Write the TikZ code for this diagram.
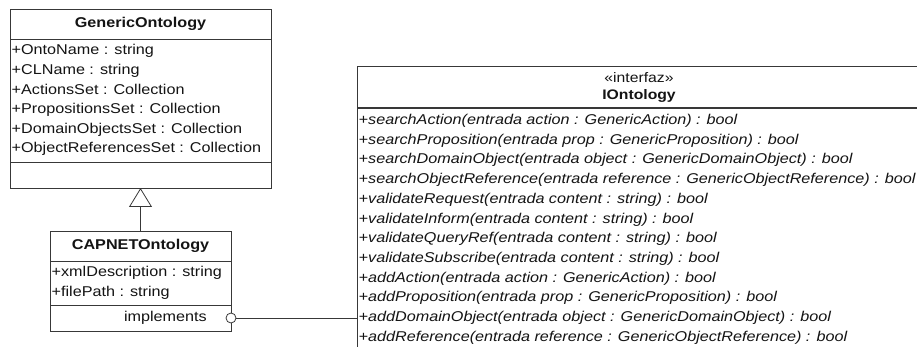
\documentclass[tikz,border=0pt]{standalone}
\usepackage{fontspec}
\setmainfont{Liberation Sans}
\newfontfamily\umlfont[FakeStretch=1.14]{Liberation Sans}
\usetikzlibrary{arrows.meta,positioning}

\tikzset{
  compart/.style={draw=cline,line width=0.8pt,fill=white,inner sep=0pt,outer sep=0pt,anchor=north west},
  ctitle/.style={inner sep=0pt,text=ctext,font=\umlfont\bfseries\fontsize{14.2}{17}\selectfont},
  attr/.style={anchor=base west,inner sep=0pt,text=ctext,font=\umlfont\fontsize{14.2}{17}\selectfont},
  meth/.style={anchor=base west,inner sep=0pt,text=ctext,font=\umlfont\itshape\fontsize{14.2}{16}\selectfont},
  ihead/.style={inner sep=0pt,text=ctext,font=\umlfont\fontsize{13.8}{16}\selectfont},
}

\begin{document}
\begin{tikzpicture}[x=1pt,y=-1pt]
%
\useasboundingbox (0,0) rectangle (917,347);
\clip (0,0) rectangle (917,347);
%
\definecolor{cline}{rgb}{0.22,0.22,0.22}
\definecolor{ctext}{rgb}{0.08,0.08,0.08}
%
% GenericOntology
\node[compart,minimum width=261pt,minimum height=30pt] (go-title) at (10,9) {};
\node[compart,minimum width=261pt,minimum height=123pt,below=0pt of go-title] (go-attr) {};
\node[compart,minimum width=261pt,minimum height=26pt,below=0pt of go-attr] (go-ops) {};
\node[ctitle] (go-name) at (go-title.center) {GenericOntology};
\foreach \a [count=\i] in {{+OntoName : string},{+CLName : string},{+ActionsSet : Collection},{+PropositionsSet : Collection},{+DomainObjectsSet : Collection},{+ObjectReferencesSet : Collection}}
  \node[attr] (go-a\i) at (11.5,35.4+19.6*\i) {\a};
%
% CAPNETOntology
\node[compart,minimum width=181pt,minimum height=30pt] (cap-title) at (50,231) {};
\node[compart,minimum width=181pt,minimum height=44pt,below=0pt of cap-title] (cap-attr) {};
\node[compart,minimum width=181pt,minimum height=26pt,below=0pt of cap-attr] (cap-ops) {};
\node[ctitle] (cap-name) at (cap-title.center) {CAPNETOntology};
\node[attr] (cap-a1) at (51.5,276) {+xmlDescription : string};
\node[attr] (cap-a2) at (51.5,296) {+filePath : string};
\node[attr,anchor=east,xshift=-24pt] (cap-impl) at (cap-ops.east) {implements};
%
% IOntology
\node[compart,minimum width=564pt,minimum height=41pt] (io-head) at (357,66) {};
\node[compart,minimum width=564pt,minimum height=260pt,below=1.2pt of io-head] (io-body) {};
\node[ihead,yshift=8.5pt] (io-stereo) at (io-head.center) {«interfaz»};
\node[ihead,font=\umlfont\bfseries\fontsize{13.8}{16}\selectfont,yshift=-9.5pt] (io-name) at (io-head.center) {IOntology};
\foreach \m [count=\i] in {{+searchAction(entrada action : GenericAction) : bool},{+searchProposition(entrada prop : GenericProposition) : bool},{+searchDomainObject(entrada object : GenericDomainObject) : bool},{+searchObjectReference(entrada reference : GenericObjectReference) : bool},{+validateRequest(entrada content : string) : bool},{+validateInform(entrada content : string) : bool},{+validateQueryRef(entrada content : string) : bool},{+validateSubscribe(entrada content : string) : bool},{+addAction(entrada action : GenericAction) : bool},{+addProposition(entrada prop : GenericProposition) : bool},{+addDomainObject(entrada object : GenericDomainObject) : bool},{+addReference(entrada reference : GenericObjectReference) : bool}}
  \node[meth] (io-m\i) at (358.5,104.8+19.7*\i) {\m};
%
% relations
\draw[cline,line width=0.8pt,-{Triangle[open,length=19pt,width=23pt]}] (cap-title.north) -- (go-ops.south);
\node[draw=cline,line width=0.8pt,fill=white,circle,inner sep=0pt,minimum size=10pt] (lolli) at (cap-ops.east) {};
\draw[cline,line width=0.8pt] (lolli.east) -- (io-body.west |- lolli);
%
\end{tikzpicture}
\end{document}
